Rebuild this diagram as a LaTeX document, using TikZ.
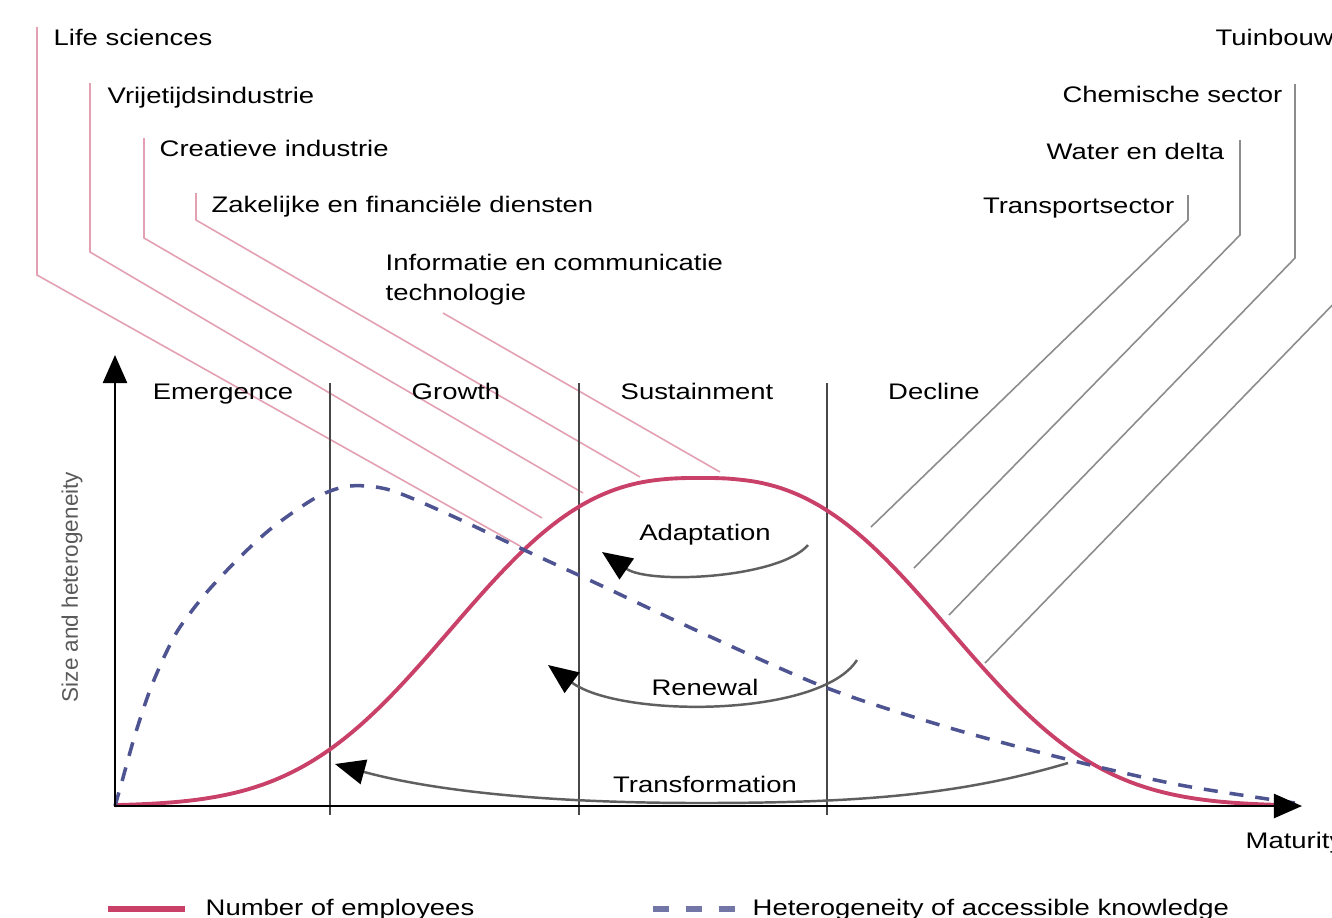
\documentclass[tikz,border=0pt]{standalone}
\usepackage{fontspec}
\setmainfont{Liberation Sans}[FakeStretch=1.22]
\newfontfamily\uprightfont{Liberation Sans}
\usepackage{tikz}
\usetikzlibrary{arrows.meta}
\definecolor{emppink}{RGB}{201,64,104}
\definecolor{linkpink}{RGB}{226,160,178}
\definecolor{linkgray}{RGB}{140,140,140}
\definecolor{knowblue}{RGB}{78,84,145}
\definecolor{divgray}{RGB}{72,72,72}
\definecolor{arrgray}{RGB}{95,95,95}
\definecolor{labgray}{RGB}{90,90,90}

\begin{document}
\begin{tikzpicture}[x=0.01cm, y=-0.01cm,
  lbl/.style={font=\fontsize{6.4}{8.8}\selectfont, inner sep=0pt},
  pinklink/.style={draw=linkpink, line width=0.45pt},
  graylink/.style={draw=linkgray, line width=0.45pt},
  phaseline/.style={draw=divgray, line width=0.8pt},
  axisline/.style={line width=0.7pt, line cap=rect, -{Triangle[length=0.28cm,width=0.24cm]}},
  loopback/.style={draw=arrgray, line width=0.7pt,
    -{Triangle[length=0.3cm,width=0.25cm,color=black]}},
  employees/.style={draw=emppink, line width=1.1pt},
  knowledge/.style={draw=knowblue, line width=1pt, dash pattern=on 4pt off 3.4pt}]
  \path[use as bounding box, fill=white] (0,0) rectangle (1332,917);

  \node[lbl, anchor=base west] (lifesci) at (53,45) {Life sciences};
  \node[lbl, anchor=base west] (vrijetijd) at (107,103) {Vrijetijdsindustrie};
  \node[lbl, anchor=base west] (creatief) at (159,156) {Creatieve industrie};
  \node[lbl, anchor=base west] (zakelijk) at (211,212) {Zakelijke en financiële diensten};
  \node[lbl, anchor=north west, align=left] (ict) at (385,253) {Informatie en communicatie\\technologie};

  \node[lbl, anchor=base west] (tuinbouw) at (1215,45) {Tuinbouw};
  \node[lbl, anchor=base east] (chemie) at (1283,102) {Chemische sector};
  \node[lbl, anchor=base east] (water) at (1225,159) {Water en delta};
  \node[lbl, anchor=base east] (transport) at (1175,213) {Transportsector};

  \coordinate (lifesci-top) at (37,27);
  \coordinate (lifesci-bend) at (37,275);
  \coordinate (lifesci-end) at (520,546);
  \coordinate (vrijetijd-top) at (90,83);
  \coordinate (vrijetijd-bend) at (90,252);
  \coordinate (vrijetijd-end) at (542,518);
  \coordinate (creatief-top) at (144,138);
  \coordinate (creatief-bend) at (144,238);
  \coordinate (creatief-end) at (583,493);
  \coordinate (zakelijk-top) at (196,193);
  \coordinate (zakelijk-bend) at (196,220);
  \coordinate (zakelijk-end) at (640,477);
  \coordinate (ict-from) at (443,313);
  \coordinate (ict-end) at (720,472);

  \coordinate (tuinbouw-top) at (1345,28);
  \coordinate (tuinbouw-bend) at (1345,292);
  \coordinate (tuinbouw-end) at (985,663);
  \coordinate (chemie-top) at (1295,84);
  \coordinate (chemie-bend) at (1295,258);
  \coordinate (chemie-end) at (949,615);
  \coordinate (water-top) at (1240,140);
  \coordinate (water-bend) at (1240,235);
  \coordinate (water-end) at (914,568);
  \coordinate (transport-top) at (1188,195);
  \coordinate (transport-bend) at (1188,220);
  \coordinate (transport-end) at (871,527);

  \draw[pinklink] (lifesci-top) -- (lifesci-bend) -- (lifesci-end);
  \draw[pinklink] (vrijetijd-top) -- (vrijetijd-bend) -- (vrijetijd-end);
  \draw[pinklink] (creatief-top) -- (creatief-bend) -- (creatief-end);
  \draw[pinklink] (zakelijk-top) -- (zakelijk-bend) -- (zakelijk-end);
  \draw[pinklink] (ict-from) -- (ict-end);

  \draw[graylink] (tuinbouw-top) -- (tuinbouw-bend) -- (tuinbouw-end);
  \draw[graylink] (chemie-top) -- (chemie-bend) -- (chemie-end);
  \draw[graylink] (water-top) -- (water-bend) -- (water-end);
  \draw[graylink] (transport-top) -- (transport-bend) -- (transport-end);

  \draw[phaseline] (330,383) -- (330,815);
  \draw[phaseline] (579,383) -- (579,815);
  \draw[phaseline] (827,383) -- (827,815);

  \node[lbl, anchor=base] (emergence) at (223,399) {Emergence};
  \node[lbl, anchor=base] (growth) at (456,399) {Growth};
  \node[lbl, anchor=base] (sustain) at (697,399) {Sustainment};
  \node[lbl, anchor=base] (decline) at (934,399) {Decline};

  \draw[employees] plot[domain=115:1292, samples=120, smooth]
    ({\x}, {806-328*exp(-((abs(\x-700)+0.01)/299)^2.64)});
  \draw[knowledge] plot[smooth] coordinates {(115,806) (121,785) (135,735) (150,690)
    (165,655) (180,627) (207,592) (240,557) (273,527) (317,497) (350,486) (390,490)
    (450,515) (520,548) (600,585) (700,632) (827,688) (950,728) (1070,760) (1180,785)
    (1295,803)};

  \coordinate (adapt-from) at (808,545);
  \coordinate (adapt-to) at (602,552);
  \coordinate (renew-from) at (857,660);
  \coordinate (renew-to) at (548,665);
  \coordinate (transform-from) at (1068,763);
  \coordinate (transform-to) at (335,764);

  \draw[loopback] (adapt-from) .. controls (780,578) and (650,585) .. (adapt-to);
  \draw[loopback] (renew-from) .. controls (820,718) and (620,718) .. (renew-to);
  \draw[loopback] (transform-from) .. controls (960,795) and (860,803) .. (700,803)
    .. controls (540,803) and (430,790) .. (transform-to);

  \node[lbl, anchor=base] (adapt) at (705,540) {Adaptation};
  \node[lbl, anchor=base] (renew) at (705,695) {Renewal};
  \node[lbl, anchor=base] (transform) at (705,792) {Transformation};

  \coordinate (origin) at (115,806);
  \coordinate (ytip) at (115,355);
  \coordinate (xtip) at (1302,806);
  \draw[axisline] (origin) -- (ytip);
  \draw[axisline] (origin) -- (xtip);

  \node[font=\uprightfont\fontsize{6.4}{8}\selectfont, text=labgray, inner sep=0pt,
    rotate=90] (ylabel) at (72,587) {Size and heterogeneity};
  \node[lbl, anchor=base west] (maturity) at (1245,848) {Maturity};

  \draw[emppink, line width=1.8pt] (108,909) -- (185,909);
  \node[lbl, anchor=base west] (legemp) at (205,915) {Number of employees};
  \draw[knowblue!80, line width=1.5pt, dash pattern=on 4.55pt off 4.8pt] (653,909) -- (735,909);
  \node[lbl, anchor=base west] (legknow) at (752,915) {Heterogeneity of accessible knowledge};
\end{tikzpicture}
\end{document}
